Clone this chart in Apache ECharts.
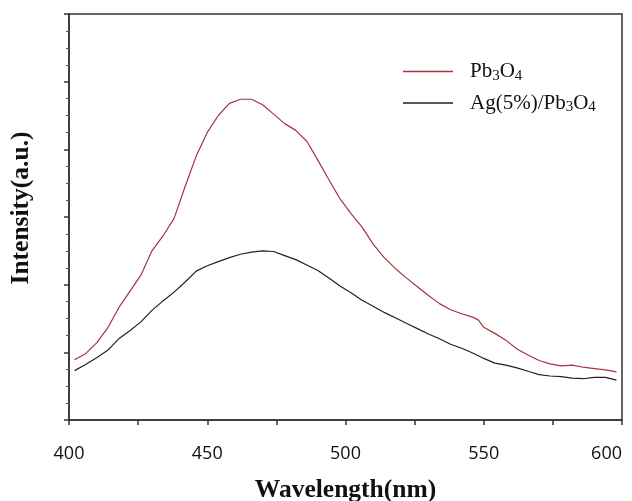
<!DOCTYPE html>
<html>
<head>
<meta charset="utf-8">
<script src="https://cdn.jsdelivr.net/npm/echarts@6/dist/echarts.min.js"></script>
<style>
  html, body { margin: 0; padding: 0; background: #fff; }
  #chart { width: 632px; height: 501px; }
</style>
</head>
<body>
<div id="chart"></div>
<script>
// Photoluminescence spectra (wavelength in nm, intensity in arbitrary units)
const wavelengths = [402, 406, 410, 414, 418, 422, 426, 430, 434, 438, 442, 446, 450, 454, 458, 462, 466, 470, 474, 478,
  482, 486, 490, 494, 498, 502, 506, 510, 514, 518, 522, 526, 530, 534, 538, 542, 546, 548, 550, 554,
  558, 562, 566, 570, 574, 578, 582, 586, 590, 594, 598];

const pb3o4 = [0.89, 0.98, 1.14, 1.36, 1.66, 1.90, 2.14, 2.50, 2.72, 2.98, 3.45, 3.90, 4.25, 4.50, 4.68, 4.74, 4.74, 4.66, 4.52, 4.38,
  4.28, 4.12, 3.84, 3.55, 3.27, 3.05, 2.85, 2.60, 2.40, 2.24, 2.10, 1.97, 1.84, 1.72, 1.63, 1.57, 1.52, 1.48, 1.37, 1.28,
  1.18, 1.05, 0.96, 0.88, 0.83, 0.80, 0.81, 0.78, 0.76, 0.74, 0.71];

const agPb3o4 = [0.73, 0.82, 0.92, 1.03, 1.20, 1.32, 1.45, 1.62, 1.76, 1.89, 2.04, 2.20, 2.28, 2.34, 2.40, 2.45, 2.48, 2.50, 2.49, 2.43,
  2.37, 2.29, 2.21, 2.10, 1.98, 1.88, 1.77, 1.68, 1.59, 1.51, 1.43, 1.35, 1.27, 1.20, 1.12, 1.06, 0.99, 0.95, 0.91, 0.84,
  0.81, 0.77, 0.72, 0.67, 0.65, 0.64, 0.62, 0.61, 0.63, 0.63, 0.59];

const xTickLabels = [400, 450, 500, 550, 600];
const seriesNames = ['Pb3O4', 'Ag(5%)/Pb3O4'];

const pair = (xs, ys) => xs.map((x, i) => [x, ys[i]]);

// Legend labels with subscript digits
const legendRich = {
  t: { fontFamily: 'Liberation Serif', fontSize: 21, color: '#111', lineHeight: 24 },
  s: { fontFamily: 'Liberation Serif', fontSize: 15, color: '#111', lineHeight: 24, verticalAlign: 'bottom', padding: [6, 0, 0, 0] }
};
function legendText(name) {
  return name.replace(/(\d)(?=O|$)/g, '\u0000$1\u0000')
    .split('\u0000')
    .map((part, i) => part === '' ? '' : (i % 2 === 1 ? '{s|' + part + '}' : '{t|' + part + '}'))
    .join('');
}

const chart = echarts.init(document.getElementById('chart'), null, { renderer: 'canvas' });
chart.setOption({
  backgroundColor: '#fff',
  animation: false,
  grid: {
    left: 69, right: 10, top: 14, bottom: 81,
    outerBoundsMode: 'none',
    containLabel: false,
    show: true, borderColor: '#333', borderWidth: 1.5, backgroundColor: 'transparent'
  },
  legend: {
    orient: 'vertical',
    left: 398, top: 56,
    itemWidth: 50, itemHeight: 14, itemGap: 9,
    icon: 'path://M0,0 L50,0 L50,1.4 L0,1.4 Z',
    formatter: legendText,
    textStyle: { rich: legendRich, padding: [0, 0, 0, 12] },
    data: seriesNames
  },
  xAxis: {
    type: 'value',
    min: 400, max: 600, interval: 25,
    name: 'Wavelength(nm)',
    nameLocation: 'middle',
    nameGap: 57,
    nameTextStyle: { fontFamily: 'Liberation Serif', fontWeight: 'bold', fontSize: 25.5, color: '#111' },
    axisLine: { lineStyle: { color: '#333', width: 1.5 } },
    axisTick: { length: 5, lineStyle: { color: '#333', width: 1.5 } },
    axisLabel: {
      margin: 25,
      fontFamily: 'Open Sans', fontSize: 18, color: '#111',
      showMaxLabel: true, showMinLabel: true,
      alignMaxLabel: 'right',
      formatter: v => xTickLabels.indexOf(v) >= 0 ? String(v) : ''
    },
    splitLine: { show: false }
  },
  yAxis: {
    type: 'value',
    min: 0, max: 6, interval: 1,
    name: 'Intensity(a.u.)',
    nameLocation: 'middle',
    nameGap: 35,
    nameTextStyle: { fontFamily: 'Liberation Serif', fontWeight: 'bold', fontSize: 25.5, color: '#111', padding: [0, 0, 0, 18] },
    axisLine: { show: true, lineStyle: { color: '#333', width: 1.5 } },
    axisTick: { show: true, length: 5, lineStyle: { color: '#333', width: 1.5 } },
    minorTick: { show: true, splitNumber: 4, length: 3, lineStyle: { color: '#555', width: 1 } },
    axisLabel: { show: false },
    splitLine: { show: false }
  },
  series: [
    {
      name: seriesNames[0],
      type: 'line',
      data: pair(wavelengths, pb3o4),
      showSymbol: false, symbol: 'none',
      lineStyle: { color: '#a8323e', width: 1.2 },
      itemStyle: { color: '#a8323e' }
    },
    {
      name: seriesNames[1],
      type: 'line',
      data: pair(wavelengths, agPb3o4),
      showSymbol: false, symbol: 'none',
      lineStyle: { color: '#222', width: 1.2 },
      itemStyle: { color: '#222' }
    }
  ]
});
</script>
</body>
</html>
